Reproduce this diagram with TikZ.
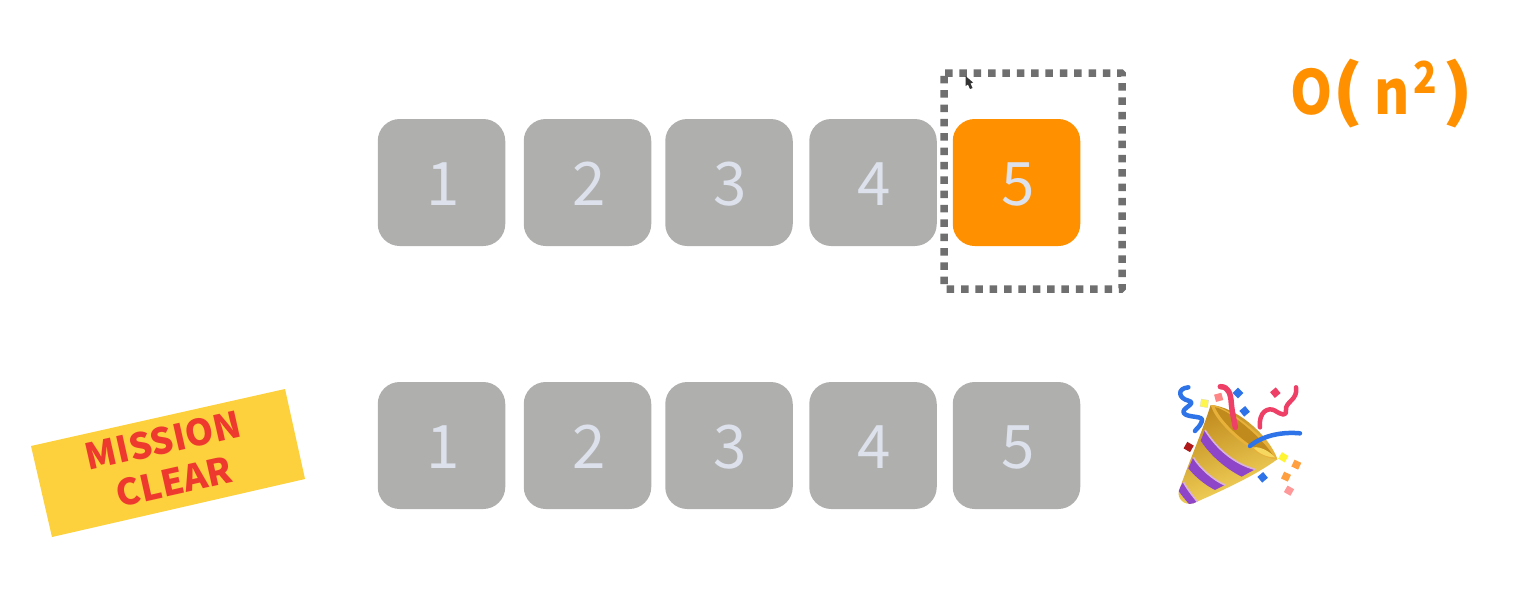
\documentclass[tikz,border=0pt]{standalone}
\usepackage{fontspec}
\setmainfont{Noto Sans}
\newfontfamily\cjkf{Noto Sans CJK SC}
\usetikzlibrary{shadings}
\definecolor{cellgrey}{HTML}{AFB0AE}
\definecolor{celltxt}{HTML}{DDE1EC}
\definecolor{orng}{HTML}{FF9000}
\definecolor{frame}{HTML}{6F6F6F}
\definecolor{bannerc}{HTML}{FDD13D}
\definecolor{redt}{HTML}{EE3A2E}
\definecolor{purp}{HTML}{8E45C8}
\definecolor{gold}{HTML}{E8B23A}
\definecolor{golddark}{HTML}{C08A1C}
\definecolor{goldlight}{HTML}{F6D860}
\definecolor{blu}{HTML}{2F73E8}
\definecolor{rsd}{HTML}{EE3F66}
\tikzset{
 cell/.style={rounded corners=22pt,minimum width=127.5pt,minimum height=127pt,inner sep=0pt,fill=cellgrey,text=celltxt,font=\cjkf\fontsize{60}{60}\selectfont,text height=45pt,text depth=-2pt,execute at begin node=\kern3pt},
 hot/.style={cell,fill=orng},
 bannertxt/.style={rotate=12.7,text=redt,font=\cjkf\bfseries\fontsize{36}{36}\selectfont},
 streamer/.style={line cap=round,line join=round,line width=4.5pt},
 conf/.style={minimum size=7.5pt,inner sep=0pt,rotate=40}
}
\begin{document}
\begin{tikzpicture}[x=1pt,y=-1pt]
\useasboundingbox (0,0) rectangle (1540,608);
\fill[white] (0,0) rectangle (1540,608);
% top row
\node[cell] (a1) at (441.5,182.5) {1};
\node[cell] (a2) at (587.5,182.5) {2};
\node[cell] (a3) at (729,182.5) {3};
\node[cell] (a4) at (873,182.5) {4};
\node[hot]  (a5) at (1016.5,182.5) {5};
% bottom row
\node[cell] (b1) at (441.5,445.5) {1};
\node[cell] (b2) at (587.5,445.5) {2};
\node[cell] (b3) at (729,445.5) {3};
\node[cell] (b4) at (873,445.5) {4};
\node[cell] (b5) at (1016.5,445.5) {5};
% dotted frame
\draw[frame,line width=7.5pt,dash pattern=on 7.5pt off 6.85pt,rounded corners=1pt]
  (944,73) -- (1122,73) -- (1122,289) -- (944,289) -- cycle;
% cursor
\fill[black!80] (965.5,76) -- (965.5,86) -- (968,84.5) -- (970,89) -- (972.5,88) -- (970.5,83.5) -- (973,82.5) -- cycle;
% complexity
\node[anchor=base west,inner sep=0pt,text=orng,font=\cjkf\bfseries\fontsize{61}{61}\selectfont] (cplx) at (1290,114)
  {\scalebox{0.88}[1]{O\scalebox{1.45}[1.08]{(}\kern12.5pt n\kern4pt\raisebox{21pt}{\fontsize{44}{44}\selectfont 2}\kern6pt\scalebox{1.45}[1.08]{)}}};
% banner
\fill[bannerc] (31,446) -- (285,389) -- (305,479) -- (52,537) -- cycle;
\node[bannertxt] (m1) at (163,440.5) {MISSION};
\node[bannertxt] (m2) at (174,482) {CLEAR};
% party popper, drawn in the coordinates of a 3x crop
\begin{scope}[shift={(1160,370)},x=0.3333pt,y=-0.3333pt]
 % streamers behind
 \draw[blu,streamer] (85,52) .. controls (50,55) and (55,85) .. (85,92) .. controls (115,100) and (60,115) .. (72,130)
    .. controls (85,145) and (135,135) .. (125,155) .. controls (120,170) and (110,175) .. (105,183);
 % cone
 \path[left color=golddark,right color=goldlight,shading angle=20]
   (152,105) .. controls (125,190) and (85,280) .. (57,362) .. controls (50,385) and (72,408) .. (100,400)
   .. controls (190,360) and (280,320) .. (352,268) .. controls (330,200) and (230,110) .. (152,105) -- cycle;
 \begin{scope}
 \clip (152,105) .. controls (125,190) and (85,280) .. (57,362) .. controls (50,385) and (72,408) .. (100,400)
   .. controls (190,360) and (280,320) .. (352,268) -- (352,268) .. controls (300,270) and (170,170) .. (152,105) -- cycle;
 \fill[purp] (135,180) .. controls (170,235) and (220,280) .. (285,298) -- (245,320) .. controls (195,295) and (150,255) .. (122,212) -- cycle;
 \draw[violet!30!white,line width=1.6pt] (135,180) .. controls (170,235) and (220,280) .. (285,298);
 \fill[purp] (100,262) .. controls (120,295) and (160,330) .. (195,345) -- (165,360) .. controls (135,345) and (105,320) .. (85,295) -- cycle;
 \draw[violet!30!white,line width=1.6pt] (100,262) .. controls (120,295) and (160,330) .. (195,345);
 \fill[purp] (70,335) .. controls (80,355) and (100,380) .. (112,395) -- (90,405) .. controls (75,390) and (65,375) .. (55,362) -- cycle;
 \draw[violet!30!white,line width=1.6pt] (70,335) .. controls (80,355) and (100,380) .. (112,395);
 \end{scope}
 % mouth
 \fill[gold] (152,105) .. controls (190,100) and (335,210) .. (352,268) .. controls (300,270) and (170,170) .. (152,105) -- cycle;
 \fill[golddark] (165,112) .. controls (200,115) and (310,205) .. (340,258) .. controls (290,250) and (190,170) .. (165,112) -- cycle;
 \fill[goldlight] (280,232) .. controls (305,228) and (335,250) .. (345,262) .. controls (320,262) and (295,250) .. (280,232) -- cycle;
 % streamers in front
 \draw[rsd,streamer,line width=5.5pt] (181,50) .. controls (205,50) and (212,70) .. (214,100) .. controls (216,125) and (222,150) .. (226,172);
 \draw[blu,streamer] (270,228) .. controls (310,195) and (370,185) .. (420,190);
 \draw[rsd,streamer,line width=4.5pt] (300,172) .. controls (295,125) and (325,110) .. (345,122) .. controls (365,135) and (380,140) .. (378,120)
    .. controls (375,95) and (415,90) .. (408,52);
 % confetti
 \node[conf,fill=blu,rotate=5] (c1) at (234,69) {};
 \node[conf,fill=pink!70!red,rotate=-25] (c2) at (176,82) {};
 \node[conf,fill=yellow!70!white,draw=black!15,line width=0.3pt,rotate=40] (c3) at (133,100) {};
 \node[conf,fill=blu] (c4) at (254,124) {};
 \node[conf,fill=rsd] (c5) at (346,68) {};
 \node[conf,fill=red!65!black!90,rotate=20] (c6) at (86,231) {};
 \node[conf,fill=yellow!80!white,rotate=20] (c7) at (370,262) {};
 \node[conf,fill=orange!75!white,rotate=25] (c8) at (409,284) {};
 \node[conf,fill=orange!75!white,rotate=25] (c9) at (378,320) {};
 \node[conf,fill=blu] (c10) at (308,322) {};
 \node[conf,fill=pink!80!red,rotate=20] (c11) at (387,362) {};
\end{scope}
\end{tikzpicture}
\end{document}
